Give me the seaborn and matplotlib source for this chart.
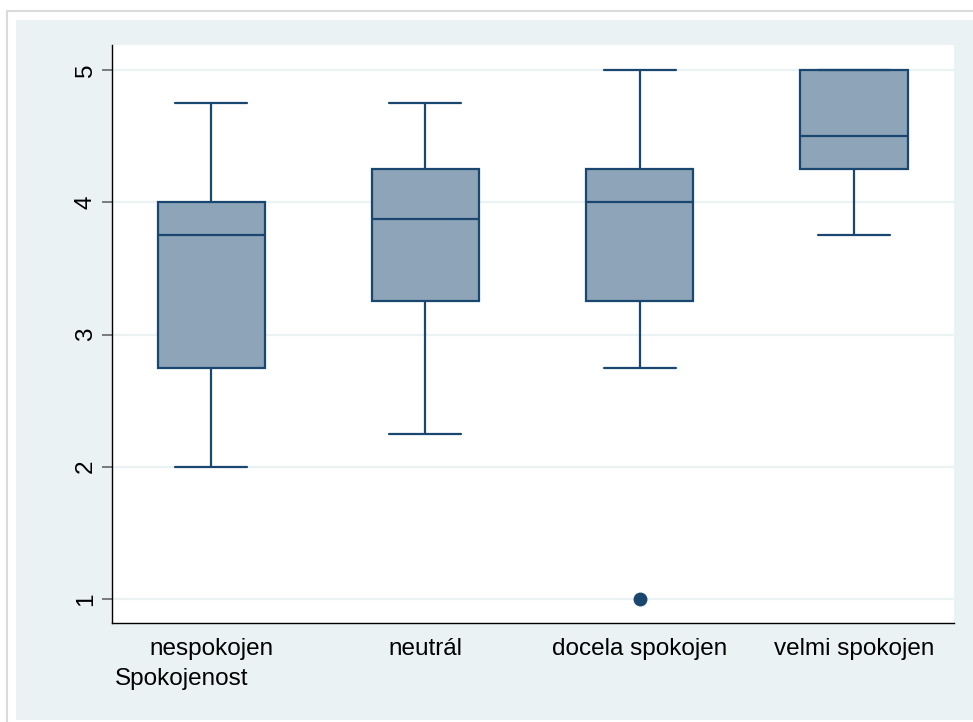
import numpy as np
import pandas as pd
import matplotlib
matplotlib.use("Agg")
import matplotlib.pyplot as plt
from matplotlib.patches import Rectangle
import seaborn as sns

# Satisfaction groups and the scores observed in each
categories = ["nespokojen", "neutrál", "docela spokojen", "velmi spokojen"]
scores_nespokojen = [2.0, 2.75, 3.75, 4.0, 4.75]
scores_neutral = [2.25, 3.25, 3.875, 4.25, 4.75]
scores_docela = [1.0, 2.75, 3.25, 3.5, 4.0, 4.25, 4.25, 4.5, 5.0]
scores_velmi = [3.75, 4.25, 4.5, 5.0, 5.0]
y_ticks = [1, 2, 3, 4, 5]
x_title = "Spokojenost"

groups = [scores_nespokojen, scores_neutral, scores_docela, scores_velmi]
df = pd.DataFrame({
    "Spokojenost": np.repeat(categories, [len(g) for g in groups]),
    "score": np.concatenate(groups),
})

sns.set_theme(style="white")
plt.rcParams["font.family"] = ["Liberation Sans", "DejaVu Sans"]

W, H = 973, 722
fig = plt.figure(figsize=(W / 100, H / 100), dpi=100, facecolor="white")

# Outer frame (runs off the right and bottom edges) and tinted graph region
top_frame = 1 - 10.5 / H
fig.patches.append(Rectangle((6.5 / W, -0.2), 1.2, top_frame + 0.2, transform=fig.transFigure,
                             facecolor="white", edgecolor="#DADADA", lw=1.5, zorder=-3))
tint_bottom = 2 / H
tint_top = 1 - 20 / H
fig.patches.append(Rectangle((16 / W, tint_bottom), 1.2, tint_top - tint_bottom,
                             transform=fig.transFigure,
                             facecolor="#EAF2F3", edgecolor="none", zorder=-2))

ax = fig.add_axes([112 / W, (H - 623) / H, (954 - 112) / W, (623 - 45) / H])
ax.set_facecolor("white")

navy = "#1A476F"
sns.boxplot(
    data=df, x="Spokojenost", y="score", order=categories, ax=ax,
    color="#8EA4B8", saturation=1, linecolor=navy, linewidth=1.6, width=0.5,
    capwidths=0.336,
    flierprops=dict(marker="o", markerfacecolor=navy, markeredgecolor=navy, markersize=9),
)

ax.set_xlim(-0.463, 3.467)
ax.set_ylim(0.818, 5.19)
ax.set_yticks(y_ticks)
ax.set_yticklabels([str(t) for t in y_ticks], rotation=90, va="center")
ax.yaxis.grid(True, color="#EAF2F3", lw=1.6)
ax.xaxis.grid(False)
ax.set_axisbelow(True)

for side in ("top", "right"):
    ax.spines[side].set_visible(False)
for side in ("left", "bottom"):
    ax.spines[side].set_color("black")
    ax.spines[side].set_linewidth(1.0)

ax.tick_params(axis="y", left=True, length=7.2, width=1.2, color="#666666",
               pad=3.6, labelsize=17.5, labelcolor="black")
ax.tick_params(axis="x", bottom=False, length=0, pad=10.8, labelsize=17.5,
               labelcolor="black")

ax.set_ylabel("")
ax.set_xlabel(x_title, loc="left", fontsize=17.5, color="black")
ax.xaxis.label.set_verticalalignment("baseline")
ax.xaxis.set_label_coords(3 / 842, -(685 - 623) / 578)

fig.savefig("out.png", dpi=100, facecolor=fig.get_facecolor())
